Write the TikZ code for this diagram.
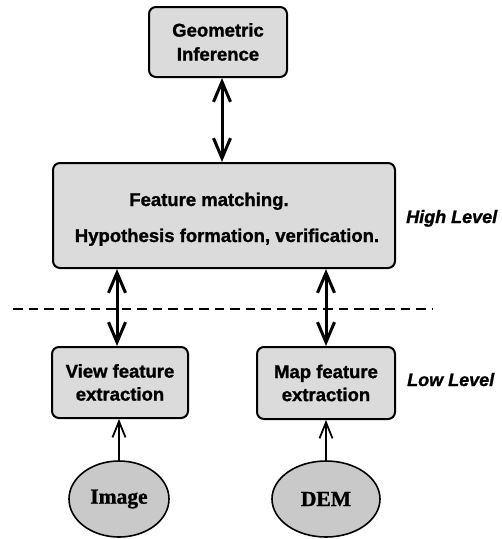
\documentclass[tikz,border=0pt]{standalone}
\usepackage{fontspec}
\usetikzlibrary{arrows.meta,shapes.geometric}
\newfontfamily\labelfont[FakeBold=1.3]{Liberation Sans}
\newfontfamily\sourcefont[FakeBold=1.2]{Liberation Serif}
\begin{document}
\begin{tikzpicture}[x=1pt,y=-1pt,
  box/.style={draw=black,line width=2pt,rounded corners=7pt,fill=gray!28,
    inner sep=0pt,align=center,font=\labelfont\fontsize{18.5}{23}\selectfont\bfseries},
  source/.style={draw=black,line width=1.6pt,ellipse,fill=gray!42,inner sep=0pt,
    minimum width=100pt,minimum height=76pt,font=\sourcefont\fontsize{21.5}{24}\selectfont\bfseries},
  boxtext/.style={anchor=base,inner sep=0pt,font=\labelfont\fontsize{18.5}{23}\selectfont\bfseries},
  levellabel/.style={anchor=base west,inner sep=0pt,font=\labelfont\fontsize{18}{23}\selectfont\bfseries\itshape},
  twoway/.style={line width=3pt,{Straight Barb[length=20pt,width=17pt,line width=3pt]}-{Straight Barb[length=20pt,width=17pt,line width=3pt]}},
  feed/.style={line width=1.8pt,-{Straight Barb[length=16pt,width=13pt,line width=1.8pt]}},
  divider/.style={line width=2pt,dash pattern=on 9.5pt off 6pt}]
  \useasboundingbox (0,0) rectangle (502,539);

  % processing boxes
  \node[box,minimum width=138pt,minimum height=70pt,
        font=\labelfont\fontsize{18.5}{24}\selectfont\bfseries] (geo) at (218,42)
        {Geometric\\Inference};
  \node[box,minimum width=342pt,minimum height=105pt] (match) at (224,215.5) {};
  \node[boxtext] (m1) at (209,206) {Feature matching.};
  \node[boxtext] (m2) at (227,242) {Hypothesis formation, verification.};
  \node[box,minimum width=136pt,minimum height=71pt] (view) at (120,382.5)
        {View feature\\extraction};
  \node[box,minimum width=138pt,minimum height=72pt] (map) at (326,383)
        {Map feature\\extraction};

  % data sources
  \node[source] (img) at (119,499) {Image};
  \node[source,minimum width=108pt] (dem) at (326,499) {DEM};

  % level labels and separator
  \node[levellabel] (high) at (406,223) {High Level};
  \node[levellabel] (low) at (407,386) {Low Level};
  \coordinate (dl) at (13,309);
  \coordinate (dr) at (432,309);
  \draw[divider] (dl) -- (dr);

  % connectors
  \draw[twoway] ([xshift=4pt]geo.south) -- ([xshift=-2pt]match.north);
  \draw[twoway] ([xshift=-3pt]view.north |- match.south) -- ([xshift=-3pt]view.north);
  \draw[twoway] (map.north |- match.south) -- (map.north);
  \draw[feed] (img.north) -- (img.north |- view.south);
  \draw[feed] (dem.north) -- (dem.north |- map.south);
\end{tikzpicture}
\end{document}
